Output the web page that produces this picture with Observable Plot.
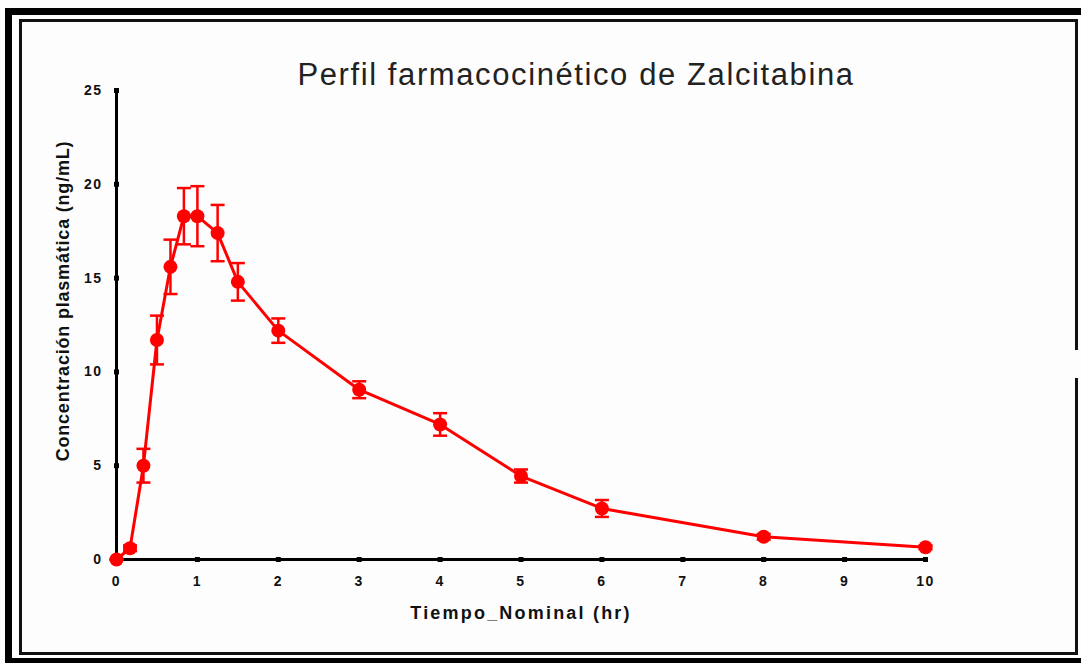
<!DOCTYPE html>
<html>
<head>
<meta charset="utf-8">
<script src="https://cdn.jsdelivr.net/npm/d3@7"></script>
<script src="https://cdn.jsdelivr.net/npm/@observablehq/plot@0.6"></script>
<style>
  html, body { margin: 0; padding: 0; background: #fdfdfd; }
  #wrap { position: relative; width: 1081px; height: 665px; overflow: hidden; background: #fdfdfd; }
  #wrap svg { position: absolute; left: 0; top: 0; }
  .b { position: absolute; box-sizing: border-box; pointer-events: none; }
</style>
</head>
<body>
<div id="wrap">
  <div class="b" style="left:5px; top:8px; width:1200px; height:655px; border-left:7px solid #000; border-top:7px solid #000; border-bottom:5px solid #000;"></div>
  <div class="b" style="left:19px; top:19px; width:1059px; height:636px; border:3px solid #111;"></div>
  <div class="b" style="left:1072px; top:350px; width:8px; height:28px; background:#fdfdfd;"></div>
</div>
<script>
const times = [0, 0.167, 0.333, 0.5, 0.667, 0.833, 1, 1.25, 1.5, 2, 3, 4, 5, 6, 8, 10];
const conc  = [0, 0.6, 5.0, 11.7, 15.6, 18.3, 18.3, 17.4, 14.8, 12.2, 9.05, 7.2, 4.45, 2.72, 1.21, 0.65];
const sem   = [0, 0.15, 0.9, 1.3, 1.45, 1.5, 1.6, 1.5, 1.0, 0.65, 0.45, 0.6, 0.35, 0.45, 0.15, 0.1];
const xTicks = [0, 1, 2, 3, 4, 5, 6, 7, 8, 9, 10];
const yTicks = [0, 5, 10, 15, 20, 25];
const title = "Perfil farmacocinético de Zalcitabina";
const xLabel = "Tiempo_Nominal (hr)";
const yLabel = "Concentración plasmática (ng/mL)";

const data = times.map((t, i) => ({t, c: conc[i], lo: conc[i] - sem[i], hi: conc[i] + sem[i]}));
const capSymbol = {draw(ctx, size) { const w = Math.sqrt(size / Math.PI); ctx.moveTo(-w, 0); ctx.lineTo(w, 0); }};
const red = "#ff0000";
const font = "'Liberation Sans', Arial, Helvetica, sans-serif";

const chart = Plot.plot({
  width: 1081,
  height: 665,
  marginTop: 90,
  marginBottom: 106,
  marginLeft: 116,
  marginRight: 156,
  style: {fontFamily: font, background: "transparent", overflow: "visible"},
  x: {domain: [0, 10]},
  y: {domain: [0, 25]},
  marks: [
    Plot.axisX({ticks: xTicks, tickSize: 0, tickPadding: 17, fontSize: 14, fontWeight: "bold", label: null, tickFormat: d => String(d), fill: "#111"}),
    Plot.axisY({ticks: yTicks, tickSize: 0, tickPadding: 14, fontSize: 14, fontWeight: "bold", label: null, tickFormat: d => String(d), fill: "#111"}),
    Plot.ruleX([0], {y1: 0, y2: 25, stroke: "#000", strokeWidth: 3}),
    Plot.ruleY([0], {x1: 0, x2: 10, stroke: "#000", strokeWidth: 3}),
    Plot.dot(yTicks, {x: 0, y: d => d, symbol: "square", r: 2.8, fill: "#000", stroke: "none"}),
    Plot.dot(xTicks, {x: d => d, y: 0, symbol: "square", r: 2.8, fill: "#000", stroke: "none"}),
    Plot.text([xLabel], {frameAnchor: "bottom", dy: 54, lineAnchor: "middle", fontSize: 18, fontWeight: "bold", fill: "#111"}),
    Plot.text([yLabel], {frameAnchor: "left", dx: -53, dy: -24, rotate: -90, textAnchor: "middle", fontSize: 18, fontWeight: "bold", fill: "#111"}),
    Plot.text([title], {frameAnchor: "top", dx: 55, dy: -15, lineAnchor: "middle", fontSize: 31, fill: "#222"}),
    Plot.ruleX(data, {x: "t", y1: "lo", y2: "hi", stroke: red, strokeWidth: 2.5}),
    Plot.dot(data, {x: "t", y: "lo", symbol: capSymbol, r: 7, stroke: red, strokeWidth: 2.5, fill: "none"}),
    Plot.dot(data, {x: "t", y: "hi", symbol: capSymbol, r: 7, stroke: red, strokeWidth: 2.5, fill: "none"}),
    Plot.line(data, {x: "t", y: "c", stroke: red, strokeWidth: 3}),
    Plot.dot(data, {x: "t", y: "c", r: 7, fill: red, stroke: "none"})
  ]
});
// letter spacing to match the wide rendering of the original
const spacing = new Map([[title, "1.6px"], [xLabel, "2.2px"], [yLabel, "0.8px"]]);
chart.querySelectorAll("text").forEach(el => {
  const s = spacing.get(el.textContent);
  if (s) el.style.letterSpacing = s;
});
chart.querySelectorAll('g[aria-label="x-axis tick label"] text, g[aria-label="y-axis tick label"] text').forEach(el => {
  el.style.letterSpacing = "1.5px";
});
document.getElementById("wrap").prepend(chart);
</script>
</body>
</html>
